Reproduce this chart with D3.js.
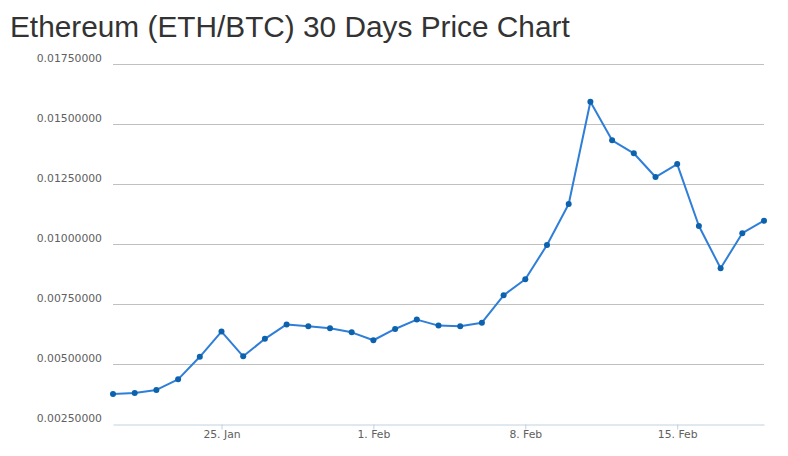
<!DOCTYPE html>
<html>
<head>
<meta charset="utf-8">
<script src="https://cdn.jsdelivr.net/npm/d3@7"></script>
<style>
  html, body { margin: 0; padding: 0; background: #fff; }
  svg { display: block; }
</style>
</head>
<body>
<svg id="chart" width="788" height="456"></svg>
<script>
const titleText = "Ethereum (ETH/BTC) 30 Days Price Chart";
const startDate = "2016-01-20";
const prices = [
  0.00375, 0.00379, 0.00392, 0.00436, 0.00530, 0.00635, 0.00532, 0.00605,
  0.00665, 0.00657, 0.00649, 0.00632, 0.00599, 0.00646, 0.00685, 0.00660,
  0.00657, 0.00672, 0.00786, 0.00853, 0.00996, 0.01167, 0.01593, 0.01432,
  0.01378, 0.01279, 0.01333, 0.01075, 0.00899, 0.01045, 0.01097
];
const yTicks = [0.0025, 0.005, 0.0075, 0.01, 0.0125, 0.015, 0.0175];
const xTickDates = ["2016-01-25", "2016-02-01", "2016-02-08", "2016-02-15"];

(function () {
const parse = d3.utcParse("%Y-%m-%d");
const day0 = parse(startDate);
const data = prices.map((v, i) => ({ date: d3.utcDay.offset(day0, i), value: v }));

const svg = d3.select("#chart");
const mLeft = 113, mRight = 764, mTop = 64, mBottom = 424;

const x = d3.scaleUtc()
  .domain([data[0].date, data[data.length - 1].date])
  .range([mLeft, mRight]);
const y = d3.scaleLinear()
  .domain([yTicks[0], yTicks[yTicks.length - 1]])
  .range([mBottom, mTop]);

// title
svg.append("text")
  .attr("x", 10).attr("y", 37)
  .attr("font-family", "Liberation Sans, Arial, sans-serif")
  .attr("font-size", 29.8)
  .attr("fill", "#333333")
  .text(titleText);

// gridlines
svg.append("g")
  .selectAll("line")
  .data(yTicks.slice(1))
  .join("line")
  .attr("x1", mLeft).attr("x2", mRight)
  .attr("y1", d => Math.round(y(d)) + 0.5)
  .attr("y2", d => Math.round(y(d)) + 0.5)
  .attr("stroke", "#C0C0C0")
  .attr("stroke-width", 1);

// y labels
svg.append("g")
  .selectAll("text")
  .data(yTicks)
  .join("text")
  .attr("x", 102)
  .attr("y", d => y(d) - 2.5)
  .attr("text-anchor", "end")
  .attr("font-family", "DejaVu Sans, Verdana, sans-serif")
  .attr("font-size", 10.8)
  .attr("fill", "#606060")
  .text(d => d3.format(".8f")(d));

// x axis
const xAxis = d3.axisBottom(x)
  .tickValues(xTickDates.map(parse))
  .tickFormat(d3.utcFormat("%-d. %b"))
  .tickSize(5)
  .tickSizeOuter(0);
const gx = svg.append("g")
  .attr("transform", `translate(0,${Math.round(mBottom) + 0.5})`)
  .call(xAxis);
gx.select(".domain").attr("stroke", "#C0D0E0");
gx.selectAll(".tick line").attr("stroke", "#C0D0E0");
gx.selectAll(".tick text")
  .attr("y", 6)
  .attr("dy", "0.71em")
  .attr("font-family", "DejaVu Sans, Verdana, sans-serif")
  .attr("font-size", 10.8)
  .attr("fill", "#606060");

// line
const line = d3.line().x(d => x(d.date)).y(d => y(d.value));
svg.append("path")
  .datum(data)
  .attr("d", line)
  .attr("fill", "none")
  .attr("stroke", "#2f7ed8")
  .attr("stroke-width", 2)
  .attr("stroke-linejoin", "round");

// markers
svg.append("g")
  .selectAll("circle")
  .data(data)
  .join("circle")
  .attr("cx", d => x(d.date))
  .attr("cy", d => y(d.value))
  .attr("r", 3)
  .attr("fill", "#0d62ad");
})();
</script>
</body>
</html>
